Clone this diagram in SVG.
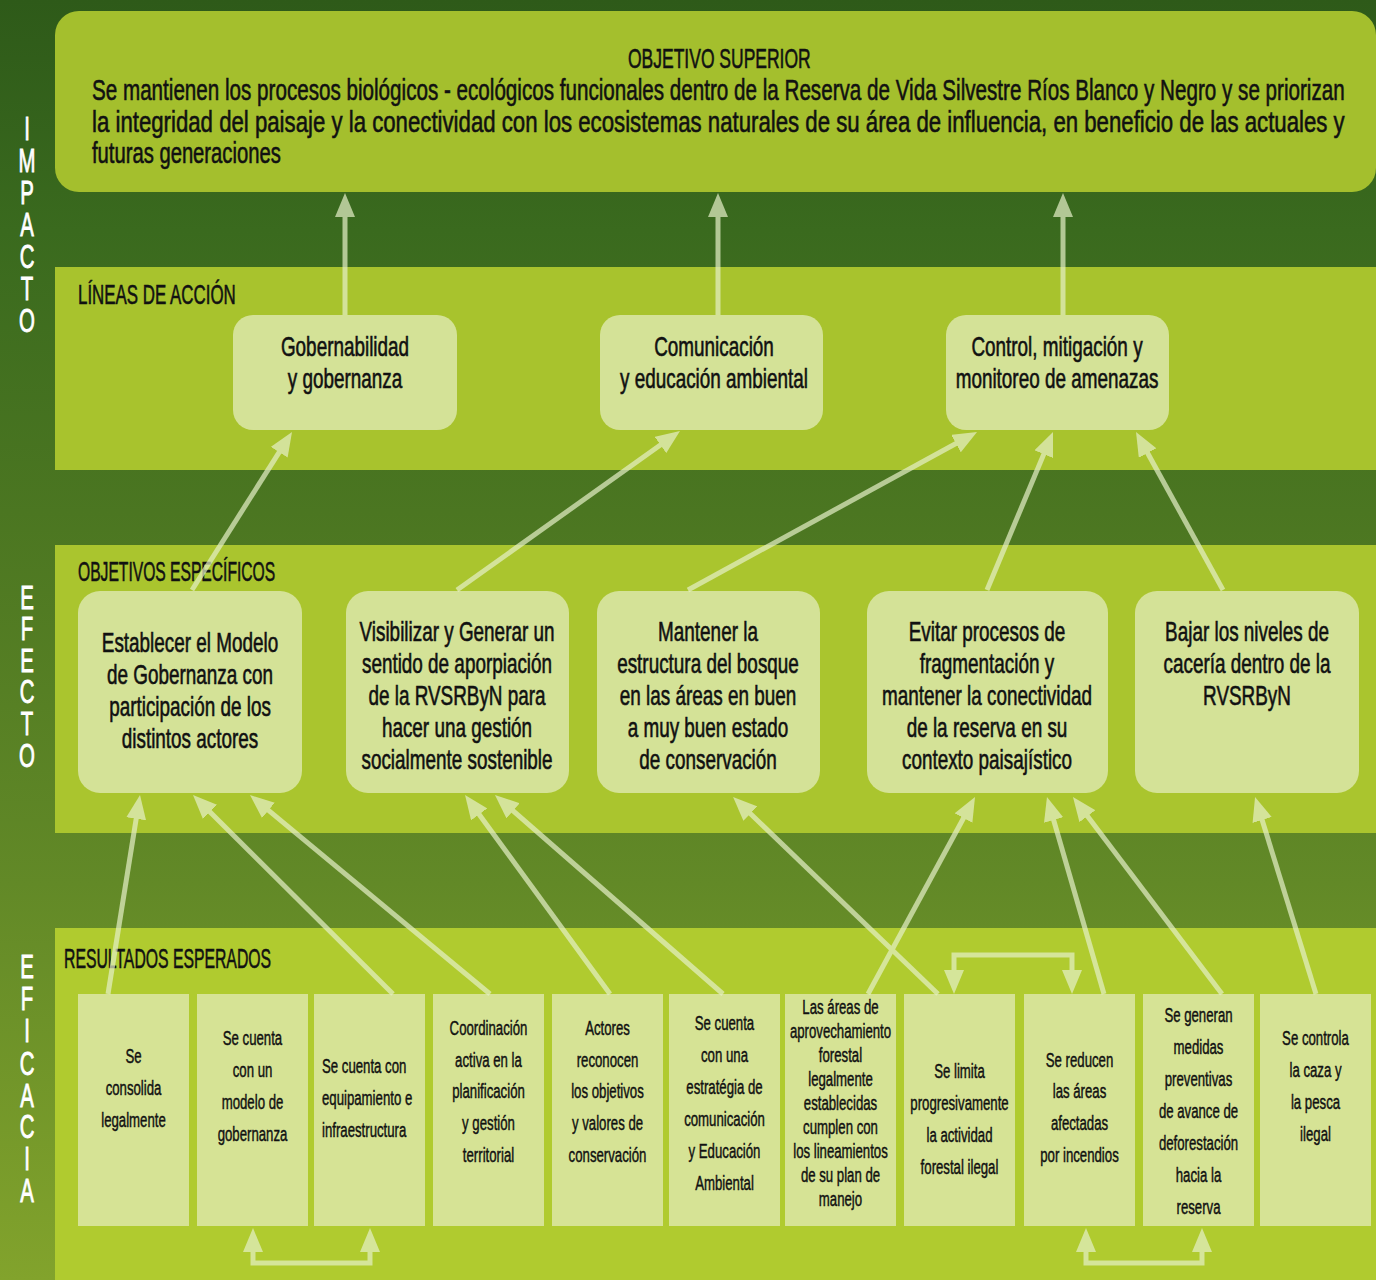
<svg xmlns="http://www.w3.org/2000/svg" width="1376" height="1280" viewBox="0 0 1376 1280">
<defs>
<linearGradient id="bg" x1="0" y1="0" x2="0" y2="1">
<stop offset="0" stop-color="#2e5a19"/>
<stop offset="0.18" stop-color="#3a6a1e"/>
<stop offset="0.4" stop-color="#4b7621"/>
<stop offset="0.69" stop-color="#628927"/>
<stop offset="1" stop-color="#82a32c"/>
</linearGradient>
<marker id="ah" viewBox="0 0 24 20" markerUnits="userSpaceOnUse" markerWidth="24" markerHeight="20" refX="12" refY="10" orient="auto-start-reverse">
<path d="M0,0 L24,10 L0,20 z" fill="#e6f0c8"/>
</marker>
<style>
text{font-family:"Liberation Sans",Arial,sans-serif;fill:#111;stroke:#111;stroke-width:0.6px}
.side{fill:#ffffff;stroke:#ffffff;stroke-width:0.9px;font-size:34px;text-anchor:middle}
.hd{font-size:28px}
.top{font-size:30px}
.nt{font-size:27px;text-anchor:middle}
.rt{font-size:20px;text-anchor:middle;stroke-width:0.45px}
.rl{font-size:20px;text-anchor:start;stroke-width:0.45px}
.node{fill:#d4e297}
.res{fill:#d6e395}
.con line,.con path{stroke:#e6f0c8;stroke-width:5;fill:none;marker-end:url(#ah)}
.con path.br{marker-start:url(#ah)}
</style>
</defs>

<!-- background -->
<rect x="0" y="0" width="1376" height="1280" fill="url(#bg)"/>
<rect x="55" y="267" width="1321" height="203" fill="#a8c32d"/>
<rect x="55" y="545" width="1321" height="288" fill="#aac52e"/>
<rect x="55" y="928" width="1321" height="352" fill="#b0cb2f"/>

<!-- side labels -->
<g id="side-impacto" transform="translate(27 0) scale(0.6 1)">
<text class="side"><tspan x="0" y="140">I</tspan><tspan x="0" y="172">M</tspan><tspan x="0" y="204">P</tspan><tspan x="0" y="236">A</tspan><tspan x="0" y="268">C</tspan><tspan x="0" y="300">T</tspan><tspan x="0" y="332">O</tspan></text>
</g>
<g id="side-efecto" transform="translate(27 0) scale(0.6 1)">
<text class="side"><tspan x="0" y="609">E</tspan><tspan x="0" y="640">F</tspan><tspan x="0" y="672">E</tspan><tspan x="0" y="703">C</tspan><tspan x="0" y="735">T</tspan><tspan x="0" y="767">O</tspan></text>
</g>
<g id="side-eficacia" transform="translate(27 0) scale(0.6 1)">
<text class="side"><tspan x="0" y="978">E</tspan><tspan x="0" y="1010">F</tspan><tspan x="0" y="1042">I</tspan><tspan x="0" y="1075">C</tspan><tspan x="0" y="1107">A</tspan><tspan x="0" y="1138">C</tspan><tspan x="0" y="1170">I</tspan><tspan x="0" y="1202">A</tspan></text>
</g>

<!-- section headers -->
<g transform="translate(78 0) scale(0.58 1)"><text class="hd" x="0" y="304" textLength="272" lengthAdjust="spacingAndGlyphs">LÍNEAS DE ACCIÓN</text></g>
<g transform="translate(78 0) scale(0.58 1)"><text class="hd" x="0" y="581" textLength="340" lengthAdjust="spacingAndGlyphs">OBJETIVOS ESPECÍFICOS</text></g>
<g transform="translate(64 0) scale(0.58 1)"><text class="hd" x="0" y="968" textLength="357" lengthAdjust="spacingAndGlyphs">RESULTADOS ESPERADOS</text></g>

<!-- top objective -->
<g id="objetivo-superior">
<rect x="55" y="11" width="1321" height="181" rx="24" fill="#a4bf2d"/>
<g transform="translate(628 0) scale(0.58 1)"><text class="hd" x="0" y="68" textLength="315" lengthAdjust="spacingAndGlyphs">OBJETIVO SUPERIOR</text></g>
<g transform="translate(92 0) scale(0.66 1)">
<text class="top" x="0" y="100" textLength="1898" lengthAdjust="spacingAndGlyphs">Se mantienen los procesos biológicos - ecológicos funcionales dentro de la Reserva de Vida Silvestre Ríos Blanco y Negro y se priorizan</text>
<text class="top" x="0" y="132" textLength="1898" lengthAdjust="spacingAndGlyphs">la integridad del paisaje y la conectividad con los ecosistemas naturales de su área de influencia, en beneficio de las actuales y</text>
<text class="top" x="0" y="163" textLength="286" lengthAdjust="spacingAndGlyphs">futuras generaciones</text>
</g>
</g>

<!-- lineas de accion -->
<g id="la-gobernabilidad">
<rect class="node" x="233" y="315" width="224" height="115" rx="20"/>
<g transform="translate(345 0) scale(0.7 1)"><text class="nt"><tspan x="0" y="356">Gobernabilidad</tspan><tspan x="0" y="388">y gobernanza</tspan></text></g>
</g>
<g id="la-comunicacion">
<rect class="node" x="600" y="315" width="223" height="115" rx="20"/>
<g transform="translate(714 0) scale(0.7 1)"><text class="nt"><tspan x="0" y="356">Comunicación</tspan><tspan x="0" y="388">y educación ambiental</tspan></text></g>
</g>
<g id="la-control">
<rect class="node" x="946" y="315" width="223" height="115" rx="20"/>
<g transform="translate(1057 0) scale(0.7 1)"><text class="nt"><tspan x="0" y="356">Control, mitigación y</tspan><tspan x="0" y="388">monitoreo de amenazas</tspan></text></g>
</g>

<!-- objetivos especificos -->
<g id="oe-1">
<rect class="node" x="78" y="591" width="224" height="202" rx="22"/>
<g transform="translate(190 0) scale(0.7 1)"><text class="nt"><tspan x="0" y="652">Establecer el Modelo</tspan><tspan x="0" y="684">de Gobernanza con</tspan><tspan x="0" y="716">participación de los</tspan><tspan x="0" y="748">distintos actores</tspan></text></g>
</g>
<g id="oe-2">
<rect class="node" x="346" y="591" width="223" height="202" rx="22"/>
<g transform="translate(457 0) scale(0.7 1)"><text class="nt"><tspan x="0" y="641">Visibilizar y Generar un</tspan><tspan x="0" y="673">sentido de aporpiación</tspan><tspan x="0" y="705">de la RVSRByN para</tspan><tspan x="0" y="737">hacer una gestión</tspan><tspan x="0" y="769">socialmente sostenible</tspan></text></g>
</g>
<g id="oe-3">
<rect class="node" x="597" y="591" width="223" height="202" rx="22"/>
<g transform="translate(708 0) scale(0.7 1)"><text class="nt"><tspan x="0" y="641">Mantener la</tspan><tspan x="0" y="673">estructura del bosque</tspan><tspan x="0" y="705">en las áreas en buen</tspan><tspan x="0" y="737">a muy buen estado</tspan><tspan x="0" y="769">de conservación</tspan></text></g>
</g>
<g id="oe-4">
<rect class="node" x="867" y="591" width="241" height="202" rx="22"/>
<g transform="translate(987 0) scale(0.7 1)"><text class="nt"><tspan x="0" y="641">Evitar procesos de</tspan><tspan x="0" y="673">fragmentación y</tspan><tspan x="0" y="705">mantener la conectividad</tspan><tspan x="0" y="737">de la reserva en su</tspan><tspan x="0" y="769">contexto paisajístico</tspan></text></g>
</g>
<g id="oe-5">
<rect class="node" x="1135" y="591" width="224" height="202" rx="22"/>
<g transform="translate(1247 0) scale(0.7 1)"><text class="nt"><tspan x="0" y="641">Bajar los niveles de</tspan><tspan x="0" y="673">cacería dentro de la</tspan><tspan x="0" y="705">RVSRByN</tspan></text></g>
</g>

<!-- resultados esperados -->
<g id="re-1">
<rect class="res" x="78" y="994" width="111" height="232"/>
<g transform="translate(133.5 0) scale(0.66 1)"><text class="rt"><tspan x="0" y="1063">Se</tspan><tspan x="0" y="1095">consolida</tspan><tspan x="0" y="1127">legalmente</tspan></text></g>
</g>
<g id="re-2">
<rect class="res" x="197" y="994" width="111" height="232"/>
<g transform="translate(252.5 0) scale(0.66 1)"><text class="rt"><tspan x="0" y="1045">Se cuenta</tspan><tspan x="0" y="1077">con un</tspan><tspan x="0" y="1109">modelo de</tspan><tspan x="0" y="1141">gobernanza</tspan></text></g>
</g>
<g id="re-3">
<rect class="res" x="314" y="994" width="111" height="232"/>
<g transform="translate(322 0) scale(0.66 1)"><text class="rl"><tspan x="0" y="1073">Se cuenta con</tspan><tspan x="0" y="1105">equipamiento e</tspan><tspan x="0" y="1137">infraestructura</tspan></text></g>
</g>
<g id="re-4">
<rect class="res" x="433" y="994" width="111" height="232"/>
<g transform="translate(488.5 0) scale(0.66 1)"><text class="rt"><tspan x="0" y="1035">Coordinación</tspan><tspan x="0" y="1067">activa en la</tspan><tspan x="0" y="1098">planificación</tspan><tspan x="0" y="1130">y gestión</tspan><tspan x="0" y="1162">territorial</tspan></text></g>
</g>
<g id="re-5">
<rect class="res" x="552" y="994" width="111" height="232"/>
<g transform="translate(607.5 0) scale(0.66 1)"><text class="rt"><tspan x="0" y="1035">Actores</tspan><tspan x="0" y="1067">reconocen</tspan><tspan x="0" y="1098">los objetivos</tspan><tspan x="0" y="1130">y valores de</tspan><tspan x="0" y="1162">conservación</tspan></text></g>
</g>
<g id="re-6">
<rect class="res" x="669" y="994" width="111" height="232"/>
<g transform="translate(724.5 0) scale(0.66 1)"><text class="rt"><tspan x="0" y="1030">Se cuenta</tspan><tspan x="0" y="1062">con una</tspan><tspan x="0" y="1094">estratégia de</tspan><tspan x="0" y="1126">comunicación</tspan><tspan x="0" y="1158">y Educación</tspan><tspan x="0" y="1190">Ambiental</tspan></text></g>
</g>
<g id="re-7">
<rect class="res" x="785" y="994" width="111" height="232"/>
<g transform="translate(840.5 0) scale(0.66 1)"><text class="rt"><tspan x="0" y="1014">Las áreas de</tspan><tspan x="0" y="1038">aprovechamiento</tspan><tspan x="0" y="1062">forestal</tspan><tspan x="0" y="1086">legalmente</tspan><tspan x="0" y="1110">establecidas</tspan><tspan x="0" y="1134">cumplen con</tspan><tspan x="0" y="1158">los lineamientos</tspan><tspan x="0" y="1182">de su plan de</tspan><tspan x="0" y="1206">manejo</tspan></text></g>
</g>
<g id="re-8">
<rect class="res" x="904" y="994" width="111" height="232"/>
<g transform="translate(959.5 0) scale(0.66 1)"><text class="rt"><tspan x="0" y="1078">Se limita</tspan><tspan x="0" y="1110">progresivamente</tspan><tspan x="0" y="1142">la actividad</tspan><tspan x="0" y="1174">forestal ilegal</tspan></text></g>
</g>
<g id="re-9">
<rect class="res" x="1024" y="994" width="111" height="232"/>
<g transform="translate(1079.5 0) scale(0.66 1)"><text class="rt"><tspan x="0" y="1067">Se reducen</tspan><tspan x="0" y="1098">las áreas</tspan><tspan x="0" y="1130">afectadas</tspan><tspan x="0" y="1162">por incendios</tspan></text></g>
</g>
<g id="re-10">
<rect class="res" x="1143" y="994" width="111" height="232"/>
<g transform="translate(1198.5 0) scale(0.66 1)"><text class="rt"><tspan x="0" y="1022">Se generan</tspan><tspan x="0" y="1054">medidas</tspan><tspan x="0" y="1086">preventivas</tspan><tspan x="0" y="1118">de avance de</tspan><tspan x="0" y="1150">deforestación</tspan><tspan x="0" y="1182">hacia la</tspan><tspan x="0" y="1214">reserva</tspan></text></g>
</g>
<g id="re-11">
<rect class="res" x="1260" y="994" width="111" height="232"/>
<g transform="translate(1315.5 0) scale(0.66 1)"><text class="rt"><tspan x="0" y="1045">Se controla</tspan><tspan x="0" y="1077">la caza y</tspan><tspan x="0" y="1109">la pesca</tspan><tspan x="0" y="1141">ilegal</tspan></text></g>
</g>

<!-- connectors -->
<g id="connectors" class="con" opacity="0.7">
<line x1="345" y1="315" x2="345" y2="205"/>
<line x1="718" y1="315" x2="718" y2="205"/>
<line x1="1063" y1="315" x2="1063" y2="205"/>
<line x1="192" y1="590" x2="285.6" y2="442.1"/>
<line x1="457" y1="590" x2="670.2" y2="438"/>
<line x1="688" y1="590" x2="966.5" y2="437.8"/>
<line x1="987" y1="590" x2="1048.4" y2="443.1"/>
<line x1="1223" y1="590" x2="1141.8" y2="442.5"/>
<line x1="108" y1="994" x2="138.1" y2="806.9"/>
<line x1="393" y1="994" x2="201.5" y2="803.5"/>
<line x1="490" y1="994" x2="259.2" y2="802.7"/>
<line x1="610" y1="994" x2="472.1" y2="804.7"/>
<line x1="723" y1="994" x2="504" y2="802.9"/>
<line x1="938" y1="994" x2="741.7" y2="805.3"/>
<line x1="868" y1="994" x2="969.3" y2="807.5"/>
<line x1="1104" y1="994" x2="1050.3" y2="808.5"/>
<line x1="1222" y1="994" x2="1080.2" y2="806.6"/>
<line x1="1316" y1="994" x2="1258.6" y2="808.5"/>
<path class="br" d="M253,1240 L253,1263 L370,1263 L370,1240"/>
<path class="br" d="M1086,1240 L1086,1263 L1202,1263 L1202,1240"/>
<path class="br" d="M954,982 L954,955 L1072,955 L1072,982"/>
</g>
</svg>
